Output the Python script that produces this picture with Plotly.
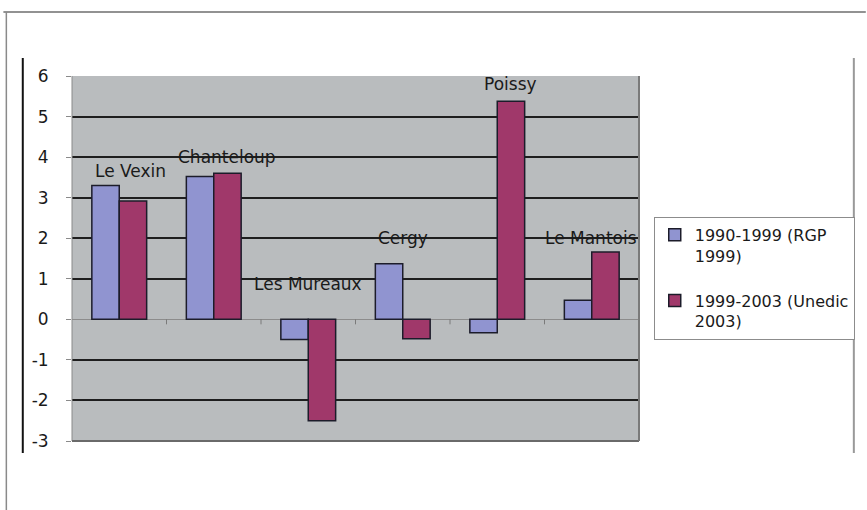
import plotly.graph_objects as go

# ---- data ----
categories = ["Le Vexin", "Chanteloup", "Les Mureaux", "Cergy", "Poissy", "Le Mantois"]
rgp_1990_1999 = [3.3, 3.52, -0.5, 1.37, -0.33, 0.47]
unedic_1999_2003 = [2.92, 3.6, -2.5, -0.48, 5.38, 1.66]
series_names = ["1990-1999 (RGP<br>1999)", "1999-2003 (Unedic<br>2003)"]
y_ticks = [-3, -2, -1, 0, 1, 2, 3, 4, 5, 6]
y_tick_text = ["-3", "-2", "-1", "0", "1", "2", "3", "4", "5", "6"]

# ---- style ----
BLUE = "#9094d0"
RED = "#a0386a"
FONT = "DejaVu Sans"
# label pixel offsets (dx, dy) relative to category centre / top of the group
label_dx = [11, 13, 0, 0, 13, -1]
label_dy = [15, 16, 35, 26, 17, 14]

fig = go.Figure()
fig.add_bar(x=categories, y=rgp_1990_1999, name=series_names[0], legendgroup="a",
            marker=dict(color=BLUE, line=dict(color="#1c1c2a", width=1.5)))
fig.add_bar(x=categories, y=unedic_1999_2003, name=series_names[1], legendgroup="b",
            marker=dict(color=RED, line=dict(color="#1c1c2a", width=1.5)))

# category labels above groups
for i, cat in enumerate(categories):
    top = max(0, rgp_1990_1999[i], unedic_1999_2003[i])
    fig.add_annotation(x=cat, y=top, text=cat, showarrow=False,
                       xanchor="center", yanchor="middle",
                       xshift=label_dx[i], yshift=label_dy[i],
                       font=dict(family=FONT, size=17, color="#1a1a1a"))

shapes = []
# small tick marks on the category axis (at zero line), at category boundaries
for k in range(1, len(categories) + 1):
    shapes.append(dict(type="line", xref="x", yref="y", x0=k - 0.5, x1=k - 0.5,
                       ysizemode="pixel", yanchor=0, y0=0, y1=-5,
                       line=dict(color="#7a7a7a", width=1)))
# plot-area frame (left, bottom, right)
shapes.append(dict(type="line", xref="paper", yref="paper", x0=0, x1=0, y0=0, y1=1,
                   line=dict(color="#8a8a8a", width=1)))
shapes.append(dict(type="line", xref="paper", yref="paper", x0=0, x1=1, y0=0, y1=0,
                   line=dict(color="#6a6a6a", width=2)))
shapes.append(dict(type="line", xref="paper", yref="paper", x0=1, x1=1, y0=0, y1=1,
                   line=dict(color="#7a7a7a", width=2)))
# outer page frames
shapes.append(dict(type="line", xref="paper", yref="paper", x0=-0.121, x1=1.40, y0=1.1753, y1=1.1753,
                   line=dict(color="#6e6e6e", width=1.5)))
shapes.append(dict(type="line", xref="paper", yref="paper", x0=-0.1158, x1=-0.1158, y0=-0.2, y1=1.1753,
                   line=dict(color="#8a8a8a", width=1.5)))
shapes.append(dict(type="line", xref="paper", yref="paper", x0=-0.0868, x1=-0.0868, y0=-0.0329, y1=1.0493,
                   line=dict(color="#111111", width=2)))
shapes.append(dict(type="line", xref="paper", yref="paper", x0=1.3789, x1=1.3789, y0=-0.0329, y1=1.0493,
                   line=dict(color="#999999", width=2)))

fig.update_layout(
    width=867, height=510,
    margin=dict(l=72, r=225, t=76, b=69),
    paper_bgcolor="white",
    plot_bgcolor="#b9bcbe",
    barmode="group", bargap=0.42, bargroupgap=0,
    font=dict(family=FONT, color="#1a1a1a"),
    showlegend=True,
    legend=dict(x=1.026, y=0.614, xanchor="left", yanchor="top",
                bgcolor="white", bordercolor="#8c8c8c", borderwidth=1,
                font=dict(family=FONT, size=16, color="#1a1a1a"),
                traceorder="grouped", tracegroupgap=21, valign="top",
                itemclick=False),
    shapes=shapes,
    xaxis=dict(range=[-0.5, len(categories) - 0.5], showticklabels=False,
               showgrid=False, zeroline=False, ticks="", showline=False, fixedrange=True),
    yaxis=dict(range=[-3, 6], tickvals=y_ticks, ticktext=y_tick_text,
               showgrid=True, gridcolor="#1e1e1e", gridwidth=2,
               zeroline=True, zerolinecolor="#8c8c8c", zerolinewidth=1,
               ticks="outside", ticklen=5, tickcolor="#8a8a8a", ticklabelstandoff=14,
               tickfont=dict(family=FONT, size=17, color="#1a1a1a"),
               showline=False, fixedrange=True),
)

fig.write_html("out.html", config={"displayModeBar": False})
